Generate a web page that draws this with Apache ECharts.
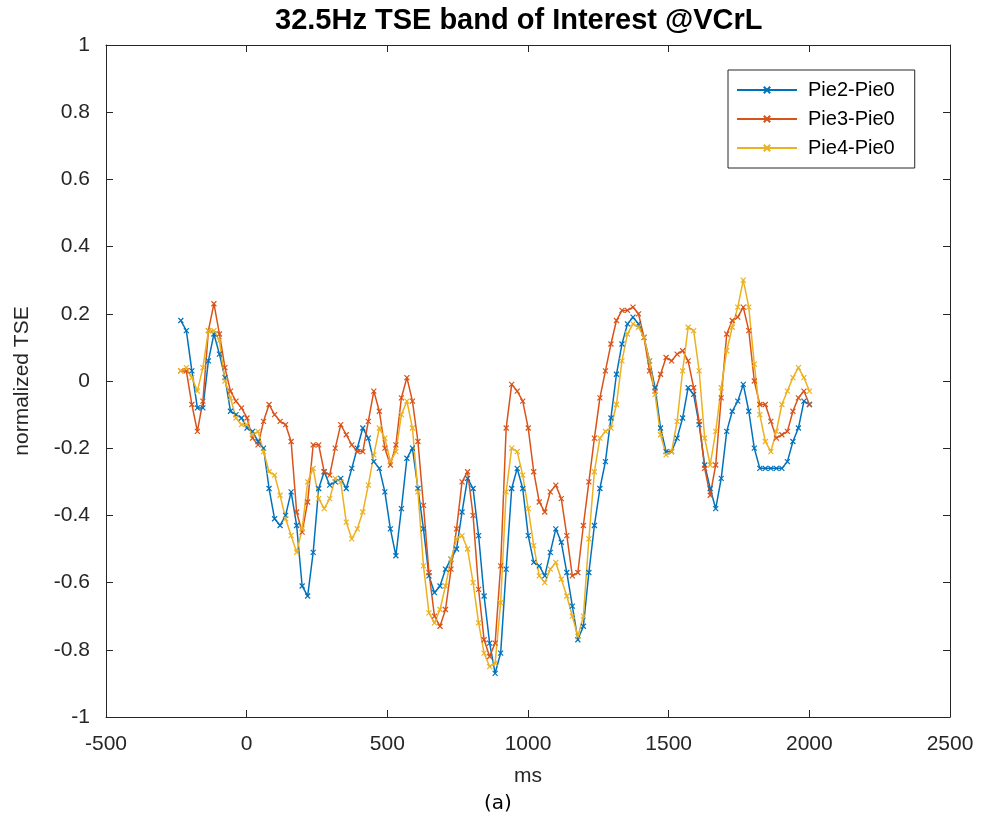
<!DOCTYPE html>
<html>
<head>
<meta charset="utf-8">
<script src="https://cdn.jsdelivr.net/npm/echarts@6/dist/echarts.min.js"></script>
<style>
html,body{margin:0;padding:0;background:#fff;}
#chart{width:985px;height:825px;}
</style>
</head>
<body>
<div id="chart"></div>
<script>
// Sample grid (ms): uniform sampling from -234 ms with ~19.6 ms step (115 samples)
const sampleStart = -234;
const sampleStep = 19.6;
const sampleCount = 115;

const seriesNames = ['Pie2-Pie0', 'Pie3-Pie0', 'Pie4-Pie0'];

const pie2 = [0.18,0.15,0.03,-0.08,-0.08,0.06,0.14,0.08,0.01,-0.09,-0.10,-0.11,-0.14,-0.15,-0.18,-0.20,-0.32,-0.41,-0.43,-0.40,
  -0.33,-0.43,-0.61,-0.64,-0.51,-0.32,-0.27,-0.31,-0.30,-0.29,-0.32,-0.26,-0.20,-0.14,-0.17,-0.24,-0.26,-0.33,-0.44,-0.52,
  -0.38,-0.23,-0.20,-0.32,-0.44,-0.58,-0.63,-0.61,-0.56,-0.53,-0.50,-0.39,-0.29,-0.32,-0.46,-0.64,-0.78,-0.87,-0.81,-0.56,
  -0.32,-0.26,-0.32,-0.46,-0.54,-0.55,-0.58,-0.51,-0.44,-0.48,-0.57,-0.67,-0.77,-0.73,-0.57,-0.43,-0.32,-0.24,-0.11,0.02,
  0.11,0.17,0.19,0.17,0.13,0.06,-0.02,-0.14,-0.21,-0.21,-0.17,-0.11,-0.02,-0.04,-0.13,-0.25,-0.32,-0.38,-0.29,-0.15,
  -0.09,-0.06,-0.01,-0.09,-0.20,-0.26,-0.26,-0.26,-0.26,-0.26,-0.24,-0.18,-0.14,-0.06,-0.07];

const pie3 = [0.03,0.03,-0.07,-0.15,-0.06,0.15,0.23,0.14,0.04,-0.03,-0.06,-0.08,-0.11,-0.17,-0.19,-0.12,-0.07,-0.10,-0.12,-0.13,
  -0.18,-0.39,-0.45,-0.36,-0.19,-0.19,-0.27,-0.28,-0.20,-0.13,-0.16,-0.19,-0.21,-0.21,-0.12,-0.03,-0.09,-0.20,-0.25,-0.19,
  -0.05,0.01,-0.06,-0.18,-0.37,-0.57,-0.70,-0.73,-0.68,-0.56,-0.44,-0.30,-0.27,-0.40,-0.62,-0.77,-0.82,-0.78,-0.55,-0.14,
  -0.01,-0.03,-0.06,-0.14,-0.27,-0.36,-0.39,-0.33,-0.31,-0.35,-0.46,-0.58,-0.57,-0.43,-0.30,-0.17,-0.05,0.03,0.11,0.18,
  0.21,0.21,0.22,0.20,0.13,0.03,-0.03,0.02,0.07,0.06,0.08,0.09,0.06,-0.02,-0.12,-0.26,-0.34,-0.25,-0.05,0.14,
  0.18,0.19,0.22,0.15,0.00,-0.07,-0.07,-0.12,-0.17,-0.16,-0.15,-0.09,-0.05,-0.03,-0.07];

const pie4 = [0.03,0.04,0.01,-0.03,0.04,0.15,0.15,0.12,0.00,-0.05,-0.11,-0.13,-0.13,-0.16,-0.15,-0.21,-0.27,-0.28,-0.34,-0.41,
  -0.46,-0.51,-0.44,-0.30,-0.26,-0.35,-0.38,-0.35,-0.29,-0.30,-0.42,-0.47,-0.44,-0.39,-0.31,-0.22,-0.14,-0.17,-0.24,-0.21,
  -0.10,-0.06,-0.14,-0.33,-0.55,-0.69,-0.72,-0.68,-0.61,-0.53,-0.47,-0.46,-0.50,-0.60,-0.72,-0.81,-0.85,-0.84,-0.66,-0.33,
  -0.20,-0.21,-0.28,-0.38,-0.49,-0.58,-0.60,-0.56,-0.54,-0.59,-0.64,-0.70,-0.76,-0.70,-0.47,-0.27,-0.17,-0.15,-0.14,-0.07,
  0.06,0.14,0.17,0.16,0.13,0.06,-0.04,-0.16,-0.22,-0.21,-0.12,0.03,0.16,0.15,0.03,-0.17,-0.25,-0.15,-0.02,0.09,
  0.16,0.22,0.30,0.22,0.05,-0.10,-0.18,-0.21,-0.15,-0.07,-0.03,0.01,0.04,0.01,-0.03];

const xTicks = { min: -500, max: 2500, interval: 500 };
const yTicks = { min: -1, max: 1, interval: 0.2 };

const colors = ['#0072BD', '#D95319', '#EDB120'];
const txt = '#262626';

const times = [];
for (let i = 0; i < sampleCount; i++) times.push(sampleStart + i * sampleStep);

function pairs(vals) { return vals.map((v, i) => [times[i], v]); }

const xMark = 'path://M0,0L10,10M10,0L0,10';

const chart = echarts.init(document.getElementById('chart'), null, { renderer: 'canvas' });

const baseX = {
  type: 'value', min: xTicks.min, max: xTicks.max, interval: xTicks.interval,
  splitLine: { show: false },
  axisLine: { show: true, onZero: false, lineStyle: { color: txt, width: 1 } },
  axisTick: { show: true, inside: true, length: 7, lineStyle: { color: txt } },
};
const baseY = {
  type: 'value', min: yTicks.min, max: yTicks.max, interval: yTicks.interval,
  splitLine: { show: false },
  axisLine: { show: true, onZero: false, lineStyle: { color: txt, width: 1 } },
  axisTick: { show: true, inside: true, length: 7, lineStyle: { color: txt } },
};

const option = {
  backgroundColor: '#fff',
  animation: false,
  title: {
    text: '32.5Hz TSE band of Interest @VCrL',
    left: 270, top: 1,
    textStyle: { fontFamily: 'Liberation Sans', fontWeight: 'bold', fontSize: 29, color: '#000' }
  },
  grid: { left: 106, right: 35, top: 45, bottom: 108 },
  xAxis: [
    Object.assign({}, baseX, {
      position: 'bottom',
      name: 'ms', nameLocation: 'middle', nameGap: 49,
      nameTextStyle: { fontFamily: 'Liberation Sans', fontSize: 21, color: txt },
      axisLabel: { show: true, margin: 17, fontFamily: 'Liberation Sans', fontSize: 21, color: txt,
        formatter: v => String(v) }
    }),
    Object.assign({}, baseX, { position: 'top', axisLabel: { show: false } })
  ],
  yAxis: [
    Object.assign({}, baseY, {
      position: 'left',
      name: 'normalized TSE', nameLocation: 'middle', nameGap: 73,
      nameTextStyle: { fontFamily: 'Liberation Sans', fontSize: 21, color: txt },
      axisLabel: { show: true, margin: 16, fontFamily: 'Liberation Sans', fontSize: 21, color: txt,
        formatter: v => String(+v.toFixed(1)) }
    }),
    Object.assign({}, baseY, { position: 'right', axisLabel: { show: false } })
  ],
  legend: {
    orient: 'vertical',
    left: 728, top: 70,
    padding: [8, 20, 8, 8],
    itemGap: 5,
    itemWidth: 60, itemHeight: 8,
    borderColor: txt, borderWidth: 1, borderRadius: 0,
    backgroundColor: '#fff',
    textStyle: { fontFamily: 'Liberation Sans', fontSize: 20, color: '#000', lineHeight: 24, padding: [0, 0, 0, 6] },
    data: seriesNames
  },
  series: [pie2, pie3, pie4].map((vals, k) => ({
    name: seriesNames[k],
    type: 'line',
    xAxisIndex: 0, yAxisIndex: 0,
    data: pairs(vals),
    symbol: xMark,
    symbolSize: 5,
    showAllSymbol: true,
    color: colors[k],
    lineStyle: { color: colors[k], width: 1.5 },
    itemStyle: { color: colors[k], borderColor: colors[k], borderWidth: 1.2 },
    emphasis: { disabled: true }
  })),
  graphic: [{
    type: 'text', left: 484, top: 794,
    style: { text: '(a)', fontFamily: 'DejaVu Sans', fontSize: 20, fill: '#000' }
  }]
};
chart.setOption(option);
</script>
</body>
</html>
